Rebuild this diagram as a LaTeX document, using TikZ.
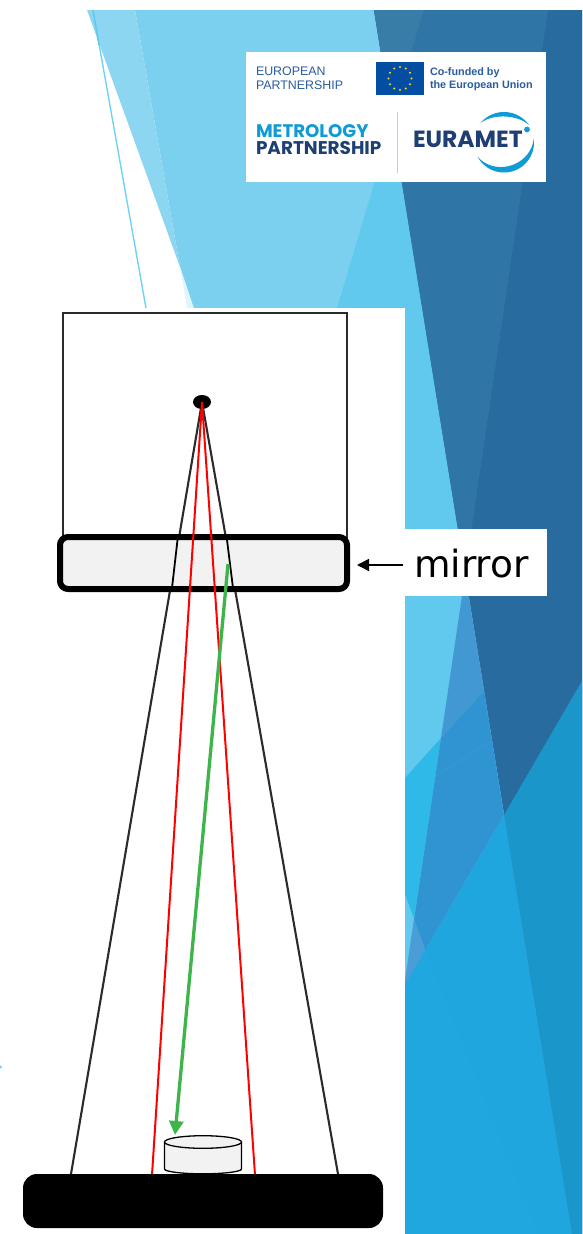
\documentclass[tikz,border=0pt]{standalone}
\usepackage{fontspec}
\setmainfont{Liberation Sans}
\newfontfamily\labelfont{DejaVu Sans}
\newfontfamily\logofont{Poppins}
\usetikzlibrary{arrows.meta,calc,shapes.geometric}
\definecolor{cMain}{HTML}{7BD0F0}
\definecolor{cBand}{HTML}{8DD6F2}
\definecolor{cPale}{HTML}{E0F4FB}
\definecolor{cDeep}{HTML}{62C9EE}
\definecolor{cDark}{HTML}{286B9F}
\definecolor{cDarkB}{HTML}{2F76A6}
\definecolor{cDarkC}{HTML}{387CA8}
\definecolor{cCyan}{HTML}{2FB9E9}
\definecolor{cMidA}{HTML}{4298D2}
\definecolor{cMidB}{HTML}{3194D2}
\definecolor{cMidC}{HTML}{4A9DD6}
\definecolor{cBottom}{HTML}{1FA6DE}
\definecolor{cBottomB}{HTML}{21A7E0}
\definecolor{cTeal}{HTML}{1B96CB}
\definecolor{cEuText}{HTML}{2A5CA0}
\definecolor{cNavy}{HTML}{1D3F72}
\definecolor{cLogoCyan}{HTML}{0E9BD6}
\definecolor{cFlag}{HTML}{034EA2}
\definecolor{cStar}{HTML}{F2DC1E}
\definecolor{cRule}{HTML}{A5D8EC}
\definecolor{cGrey}{HTML}{F2F2F2}
\definecolor{cLine}{HTML}{2B2B2B}
\definecolor{cGreen}{HTML}{3DB54A}
\definecolor{cThin}{HTML}{6FD3F3}
\tikzset{
  logotext/.style={anchor=base west,inner sep=0pt,outer sep=0pt,align=left},
  graybox/.style={draw=cLine,line width=2.4pt,fill=white,inner sep=0pt},
  rayline/.style={cLine,line width=2.1pt},
  raythin/.style={black,line width=1.8pt},
  redray/.style={red,line width=2pt},
  greenray/.style={cGreen,line width=3.3pt,-{Triangle[length=14pt,width=14pt]},shorten <=0pt},
  mirrorarrow/.style={black,line width=1.5pt,-{Triangle[length=12pt,width=12pt]}},
}
\begin{document}
\begin{tikzpicture}[x=1pt,y=-1pt]
\useasboundingbox (0,0) rectangle (582,1234);
% ---- background
\fill[white] (0,0) rectangle (582,1234);
\fill[cMain] (135,10) -- (582,10) -- (582,1234) -- (193.7,1234) -- (193.7,308) -- (180,267) -- cycle;
\fill[cBand] (87,10) -- (135,10) -- (180,267) -- cycle;
\fill[cPale] (180,267) -- (193.7,308) -- (187,308) -- cycle;
\fill[cDeep] (426,10) -- (582,10) -- (582,1234) -- (405,1234) -- (405,308) -- (337,308) -- cycle;
\fill[cDark] (374,10) -- (582,10) -- (582,1234) -- (572,1234) -- cycle;
\fill[cDarkB] (374,10) -- (548,10) -- (465,573) -- cycle;
\fill[cDarkC] (374,10) -- (424,10) -- (391,116) -- cycle;
\fill[cCyan] (405,778) -- (441,738) -- (414,919) -- (405,895) -- cycle;
\fill[cMidA] (462,596) -- (468.6,596) -- (484,691) -- (441,738) -- cycle;
\fill[cMidB] (441,738) -- (484,691) -- (504,815) -- (405,985) -- (405,981) -- cycle;
\fill[cDeep] (405,895) -- (414,919) -- (405,981) -- cycle;
\fill[cMidC] (414,919) -- (425.4,950) -- (405,985) -- (405,981) -- cycle;
\fill[cBottom] (504,815) -- (572,1234) -- (405,1234) -- (405,985) -- cycle;
\fill[cBottomB] (405,985) -- (425.4,950) -- (538,1234) -- (405,1234) -- cycle;
\fill[cTeal] (582,681) -- (504,815) -- (572,1234) -- (582,1234) -- cycle;
\draw[cMidC!40!cCyan,opacity=.35,line width=.6pt] (405,796) -- (492,740);
\draw[cThin,line width=1.4pt] (93,10) -- (146,308);
\draw[cDeep,line width=1.4pt] (93,10) -- (99,45);
\fill[white] (0,308) rectangle (405,1234);
\fill[cMain] (0.5,1067) circle[radius=1.6pt];
% ---- logo panel
\node[fill=white,draw=none,inner sep=0pt,minimum width=300pt,minimum height=130pt] (panel) at (396,117) {};
\node[logotext,text=cEuText,font=\fontsize{12.4}{14}\selectfont] (euro) at (256,75) {EUROPEAN};
\node[logotext,text=cEuText,font=\fontsize{12.4}{14}\selectfont] (part) at (256,89.5) {PARTNERSHIP};
\node[fill=cFlag,inner sep=0pt,minimum width=48pt,minimum height=33pt] (flag) at (400,78.5) {};
\foreach \a in {0,30,...,330}{\fill[cStar] ($(400,78.5)+(\a:11.5)$) circle[radius=1.15pt];}
\node[logotext,text=cEuText,font=\fontsize{10.8}{12}\bfseries\selectfont] (cof) at (430,75) {Co-funded by};
\node[logotext,text=cEuText,font=\fontsize{10.8}{12}\bfseries\selectfont] (eun) at (430,88) {the European Union};
\node[logotext,text=cLogoCyan,font=\logofont\fontsize{18.2}{20}\bfseries\selectfont] (met) at (256,137.5) {METROLOGY};
\node[logotext,text=cNavy,font=\logofont\fontsize{18.4}{20}\bfseries\selectfont] (pship) at (256,154) {PARTNERSHIP};
\draw[cRule,line width=1pt] (397,112) -- (397,173);
\node[logotext,text=cNavy,font=\logofont\fontsize{23.4}{26}\bfseries\selectfont] (eura) at (413,147) {EURAMET};
\fill[cLogoCyan] plot[domain=-8:152,samples=50] ({504+30*cos(\x)},{142.5+30*sin(\x)})
  -- plot[domain=152:-8,samples=50] ({504+(30-6*sin((\x+8)*1.125))*cos(\x)},{142.5+(30-6*sin((\x+8)*1.125))*sin(\x)}) -- cycle;
\fill[cLogoCyan] plot[domain=-140:-35,samples=40] ({504+30.5*cos(\x)},{142.5+30.5*sin(\x)})
  -- plot[domain=-35:-140,samples=40] ({504+(30.5-4.5*sin((\x+140)*1.7143))*cos(\x)},{142.5+(30.5-4.5*sin((\x+140)*1.7143))*sin(\x)}) -- cycle;
\fill[cLogoCyan] (527,129.5) circle[radius=2.9pt];
% ---- instrument
\node[graybox,minimum width=284pt,minimum height=230pt] (chamber) at (205,428) {};
\coordinate (src) at (202,402);
\coordinate (footL) at (71,1174);
\coordinate (footR) at (338,1174);
\coordinate (redL) at (152,1175);
\coordinate (redR) at (255,1175);
\coordinate (mirL) at (177.5,540);
\coordinate (mirLb) at (172,588);
\coordinate (mirR) at (227,540);
\coordinate (mirRb) at (233,588);
\draw[rayline] (src) -- (footL);
\draw[rayline] (src) -- (footR);
\node[draw=black,fill=cGrey,line width=6pt,rounded corners=8pt,inner sep=0pt,minimum width=287pt,minimum height=52pt] (mirror) at (203.5,563) {};
\draw[raythin] (mirL) -- (mirLb);
\draw[raythin] (mirR) -- (mirRb);
\node[fill=black,ellipse,inner sep=0pt,minimum width=18pt,minimum height=14pt] (blob) at (src) {};
\draw[redray] (src) -- (redL);
\draw[redray] (src) -- (redR);
% sample and stage
\coordinate (sampTop) at (203,1142);
\node[fill=black,rounded corners=14pt,inner sep=0pt,minimum width=360pt,minimum height=54pt] (stage) at (203,1201) {};
\draw[fill=cGrey,draw=black,line width=1.3pt] (164.5,1142) -- (164.5,1169) arc[start angle=180,end angle=360,x radius=38.5,y radius=-4.8] -- (241.5,1142);
\draw[fill=cGrey,draw=black,line width=1.3pt] (sampTop) ellipse[x radius=38.5,y radius=6.3];
% arrows
\coordinate (greenStart) at (228,564);
\coordinate (greenTip) at (175,1135);
\draw[greenray] (greenStart) -- (greenTip);
% label
\node[fill=white,inner sep=0pt,minimum width=142pt,minimum height=67pt] (labelbox) at (476,562.5) {};
\node[anchor=base west,inner sep=0pt,text=black,font=\labelfont\fontsize{37.5}{40}\selectfont] (mirrorlabel) at (414,577) {mirror};
\coordinate (arrowStart) at (403,565);
\coordinate (arrowTip) at (357,565);
\draw[mirrorarrow] (arrowStart) -- (arrowTip);
\end{tikzpicture}
\end{document}
